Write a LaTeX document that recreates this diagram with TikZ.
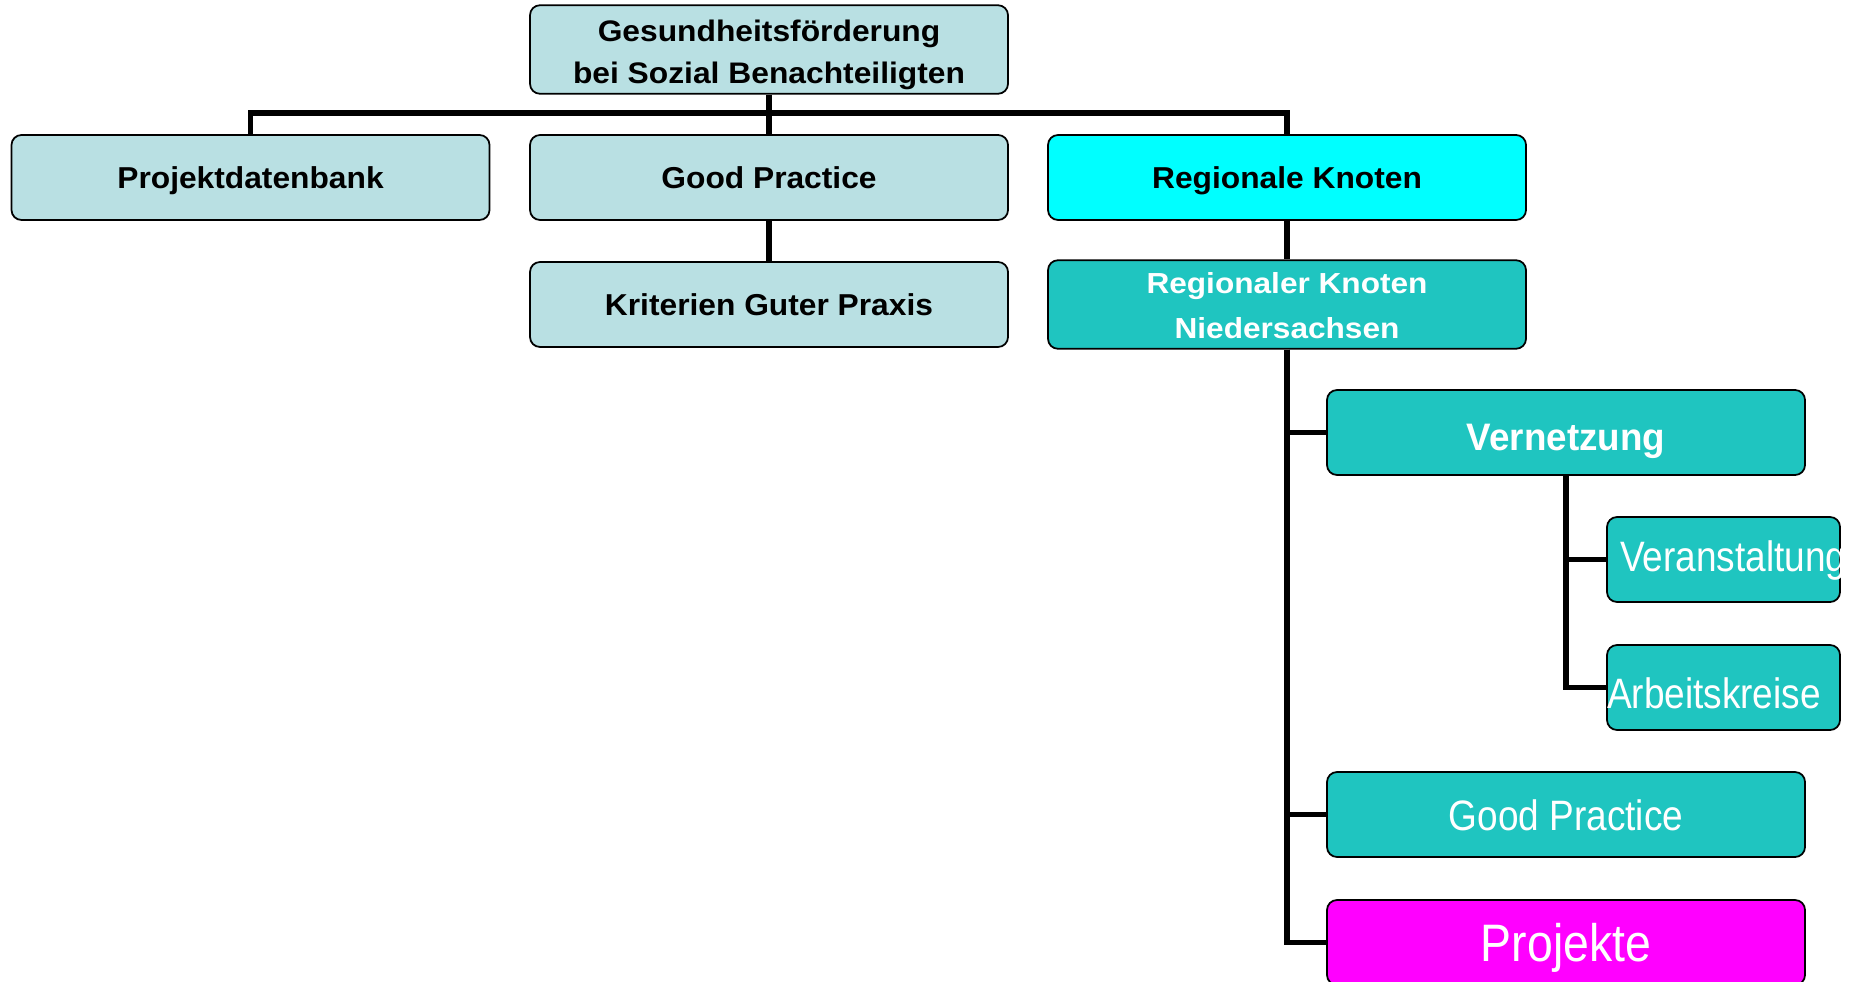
\documentclass[tikz,border=0pt]{standalone}
\usepackage{fontspec}
\usepackage{xcolor}
\newfontfamily\chartfont{Liberation Sans}
\definecolor{paleblue}{RGB}{185,224,227}
\definecolor{tealbg}{RGB}{31,197,192}
\definecolor{brightcyan}{RGB}{0,255,255}
\definecolor{brightpink}{RGB}{255,0,255}

\begin{document}
\begin{tikzpicture}
[
lightbox/.style={rectangle, rounded corners=0.1cm, draw=black, fill=paleblue, line width=0.5pt, minimum width=4.78cm, minimum height=0.85cm, inner sep=0pt, align=center, text height=8.5pt, text depth=2.1pt, font=\chartfont\bfseries\addfontfeature{FakeStretch=1.05}\fontsize{8.6}{10}\selectfont},
twoline/.style={text height=22.2pt, text depth=3pt},
cyanbox/.style={lightbox, fill=brightcyan},
tealbox/.style={lightbox, fill=tealbg, text=white},
verbox/.style={tealbox, text height=12.5pt, font=\chartfont\bfseries\addfontfeature{FakeStretch=0.96}\fontsize{10.9}{13}\selectfont},
plaintealbox/.style={tealbox, text height=11.3pt, font=\chartfont\addfontfeature{FakeStretch=0.87}\fontsize{12.1}{14}\selectfont},
smallbox/.style={plaintealbox, minimum width=2.33cm, align=left},
pinkbox/.style={lightbox, fill=brightpink, text=white, text height=13pt, font=\chartfont\addfontfeature{FakeStretch=0.88}\fontsize{15}{17}\selectfont},
orgline/.style={draw=black, line width=1.45pt}
]
\useasboundingbox (0,0) rectangle (18.51,-9.82);

%top level
\node at (7.69,-0.495) [lightbox, twoline, font=\chartfont\bfseries\addfontfeature{FakeStretch=1.07}\fontsize{8.45}{11.84}\selectfont] (root) {Gesundheitsförderung\\bei Sozial Benachteiligten};
\coordinate (bus) at (0,-1.13);

%level 1
\node at (2.505,-1.775) [lightbox] (pdb) {Projektdatenbank};
\node at (7.69,-1.775) [lightbox] (gp) {Good Practice};
\node at (12.87,-1.775) [cyanbox] (rk) {Regionale Knoten};

%level 2
\node at (7.69,-3.045) [lightbox] (kgp) {Kriterien Guter Praxis};
\node at (12.87,-3.045) [tealbox, twoline, font=\chartfont\bfseries\addfontfeature{FakeStretch=1.09}\fontsize{8.25}{12.8}\selectfont] (rkn) {Regionaler Knoten\\Niedersachsen};

%level 3
\node at (15.66,-4.325) [verbox] (vern) {Vernetzung};
\node at (17.235,-5.595) [smallbox, text width=2.07cm, inner xsep=0.13cm, text height=9pt] (vera) {Veranstaltung};
\node at (17.235,-6.875) [smallbox, text width=2.33cm, text height=13.9pt] (ak) {Arbeitskreise};
\node at (15.66,-8.145) [plaintealbox] (gp2) {Good Practice};
\node at (15.66,-9.425) [pinkbox] (proj) {Projekte};

%connectors
\draw[orgline] (root.south) -- (gp.north);
\draw[orgline] (pdb.north) |- (rk.north |- bus) -- (rk.north);
\draw[orgline] (gp.south) -- (kgp.north);
\draw[orgline] (rk.south) -- (rkn.north);
\draw[orgline] (rkn.south) |- (vern.west);
\draw[orgline] (rkn.south) |- (gp2.west);
\draw[orgline] (rkn.south) |- (proj.west);
\draw[orgline] (vern.south) |- (vera.west);
\draw[orgline] (vern.south) |- (ak.west);

\end{tikzpicture}
\end{document}
